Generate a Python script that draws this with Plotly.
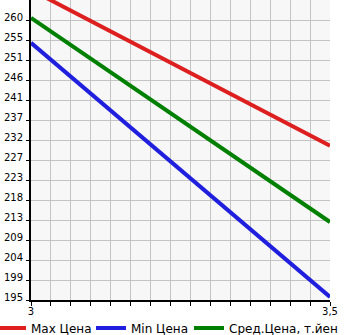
import plotly.graph_objects as go

x_vals = [3.0, 3.5]
max_price = [267.0, 230.8]
min_price = [254.7, 195.7]
avg_price = [260.5, 213.1]

y_ticktext = ["195", "199", "204", "209", "213", "218", "223", "227", "232",
              "237", "241", "246", "251", "255", "260"]
y_min = 195.0
y_step = 65.0 / 14
y_tickvals = [y_min + i * y_step for i in range(len(y_ticktext))]
y_max = y_min + 15 * y_step

x_step = 0.5 / 15
x_tickvals = [3.0 + i * x_step for i in range(16)]
x_ticktext = ["3"] + [""] * 14 + ["3,5"]

fig = go.Figure()
fig.add_trace(go.Scatter(x=x_vals, y=max_price, mode="lines", name="Max Цена",
                         line=dict(color="#dd1f1f", width=4)))
fig.add_trace(go.Scatter(x=x_vals, y=min_price, mode="lines", name="Min Цена",
                         line=dict(color="#1f1fdd", width=4)))
fig.add_trace(go.Scatter(x=x_vals, y=avg_price, mode="lines", name="Сред.Цена, т.йен",
                         line=dict(color="#008000", width=4), legend="legend2"))

legend_common = dict(orientation="h", y=-28 / 300, yanchor="middle",
                     font=dict(size=12), itemwidth=30, tracegroupgap=0,
                     borderwidth=0, bgcolor="rgba(0,0,0,0)")

fig.update_layout(
    width=345, height=335,
    margin=dict(l=31, r=15, t=0, b=35, autoexpand=False),
    paper_bgcolor="white",
    plot_bgcolor="#f7f7f7",
    font=dict(family="DejaVu Sans", size=10, color="black"),
    showlegend=True,
    legend=dict(x=-40 / 299, xanchor="left", entrywidth=55, **legend_common),
    legend2=dict(x=158 / 299, xanchor="left", **legend_common),
)
fig.update_xaxes(range=[3.0, 3.5], tickvals=x_tickvals, ticktext=x_ticktext,
                 showgrid=True, gridcolor="#c4c4c4", gridwidth=1,
                 showline=True, linecolor="black", linewidth=2,
                 ticks="outside", ticklen=4, tickcolor="black",
                 ticklabelstandoff=-3,
                 zeroline=False, fixedrange=True)
fig.update_yaxes(range=[y_min, y_max], tickvals=y_tickvals, ticktext=y_ticktext,
                 showgrid=True, gridcolor="#c4c4c4", gridwidth=1,
                 showline=True, linecolor="black", linewidth=2,
                 ticks="outside", ticklen=3, tickcolor="black",
                 ticklabelshift=-3, ticklabelstandoff=1,
                 zeroline=False, fixedrange=True)

fig.write_html("out.html", config={"displayModeBar": False})
